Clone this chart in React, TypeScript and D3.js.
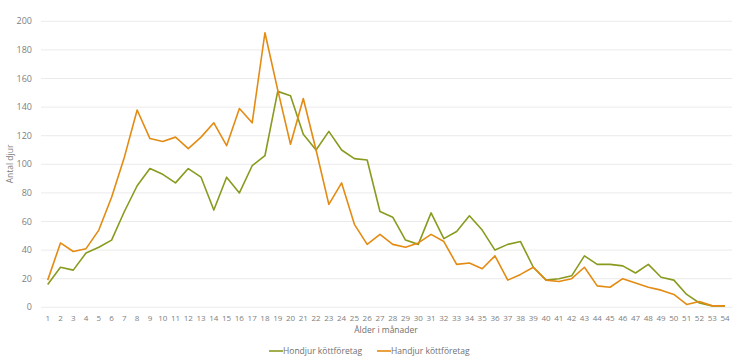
import React from "react";
import * as d3 from "d3";

const months: number[] = Array.from({ length: 54 }, (_, i) => i + 1);
const hondjur: number[] = [16, 28, 26, 38, 42, 47, 67, 85, 97, 93, 87, 97, 91, 68, 91, 80, 99, 106, 151, 148, 121, 110, 123, 110, 104, 103, 67, 63, 47, 44, 66, 48, 53, 64, 54, 40, 44, 46, 28, 19, 20, 22, 36, 30, 30, 29, 24, 30, 21, 19, 9, 3, 1, 1];
const handjur: number[] = [19, 45, 39, 41, 54, 77, 105, 138, 118, 116, 119, 111, 119, 129, 113, 139, 129, 192, 152, 114, 146, 110, 72, 87, 58, 44, 51, 44, 42, 45, 51, 46, 30, 31, 27, 36, 19, 23, 28, 19, 18, 20, 28, 15, 14, 20, 17, 14, 12, 9, 2, 4, 1, 1];
const yTicks: number[] = [0, 20, 40, 60, 80, 100, 120, 140, 160, 180, 200];
const seriesNames: string[] = ["Hondjur köttföretag", "Handjur köttföretag"];
const colors: string[] = ["#8a9a1e", "#e38b12"];

const W = 739, H = 363;
const FONT = "'Open Sans', sans-serif";

export default function App() {
  const x = d3.scaleLinear().domain([1, 54]).range([47.7, 725]);
  const y = d3.scaleLinear().domain([0, 200]).range([307.3, 21.3]);
  const line = d3.line<number>().x((_, i) => x(months[i])).y((d) => y(d));
  const series = [hondjur, handjur];
  return (
    <svg width={W} height={H} style={{ position: "absolute", left: 0, top: 0, background: "#fff" }} fontFamily={FONT}>
      {yTicks.map((t) => (
        <g key={t}>
          <line x1={41} x2={732} y1={y(t)} y2={y(t)} stroke="#ebebeb" strokeWidth={1} />
          <text x={32} y={y(t)} dy="0.35em" textAnchor="end" fontSize={9} fill="#808080">{t}</text>
        </g>
      ))}
      {months.map((m) => (
        <text key={m} x={x(m)} y={318} dy="0.35em" textAnchor="middle" fontSize={8} fill="#808080">{m}</text>
      ))}
      <text x={386} y={330} dy="0.35em" textAnchor="middle" fontSize={8.5} fill="#707070">Ålder i månader</text>
      <text transform="translate(10,164) rotate(-90)" textAnchor="middle" dy="0.35em" fontSize={8.5} fill="#808080">Antal djur</text>
      {series.map((s, i) => (
        <path key={i} d={line(s) || ""} fill="none" stroke={colors[i]} strokeWidth={1.6} strokeLinejoin="round" />
      ))}
      {seriesNames.map((n, i) => {
        const lx = i === 0 ? 269 : 377;
        return (
          <g key={n}>
            <line x1={lx} x2={lx + 14} y1={351} y2={351} stroke={colors[i]} strokeWidth={1.6} />
            <text x={lx + 14} y={351} dy="0.35em" fontSize={8.5} fill="#707070">{n}</text>
          </g>
        );
      })}
    </svg>
  );
}
